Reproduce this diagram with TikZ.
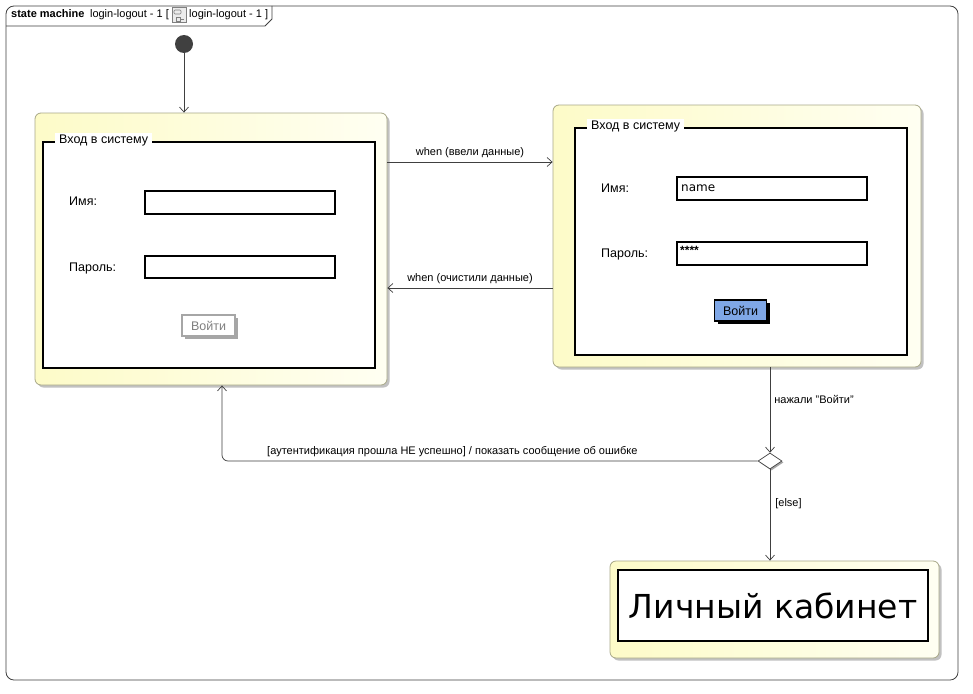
\documentclass[tikz,border=0pt]{standalone}
\usepackage{fontspec}
\setmainfont{Liberation Sans}
\newfontfamily\comicf{DejaVu Sans}
\usetikzlibrary{shapes.geometric,arrows.meta,shadows,calc}
\definecolor{ln}{HTML}{404040}
\definecolor{stborder}{HTML}{A8A888}
\definecolor{yelA}{HTML}{FDFBC8}
\definecolor{yelB}{HTML}{FFFFF2}
\definecolor{btnblue}{HTML}{7FA7E6}
\tikzset{
  tr/.style={draw=ln, line width=0.7pt, -{Straight Barb[length=5pt,width=9pt]}},
  trlabel/.style={font=\fontsize{11}{13}\selectfont, text=black, inner sep=1pt},
  state/.style={draw=stborder, line width=0.8pt, rounded corners=6pt, left color=yelA, right color=yelB,
     drop shadow={shadow xshift=2.5pt, shadow yshift=-2.5pt, fill=black!30, opacity=0.8}},
  panel/.style={draw=black, fill=white, line width=1.6pt, inner sep=0pt},
  field/.style={draw=black, fill=white, line width=1.5pt, inner sep=0pt, minimum width=190pt, minimum height=23pt},
  lbl/.style={font=\fontsize{12.5}{14}\selectfont, anchor=west, inner sep=0pt},
  ptitle/.style={font=\fontsize{12.5}{14}\selectfont, anchor=west, fill=white, inner xsep=4pt, inner ysep=1pt},
}
\begin{document}
\begin{tikzpicture}[x=1pt,y=-1pt]
\useasboundingbox (0,0) rectangle (973,693);
\fill[white] (0,0) rectangle (973,693);
% frame
\draw[ln, line width=0.8pt, rounded corners=8pt] (6,6) rectangle (958,680);
\draw[ln, line width=0.8pt] (6,26) -- (265,26) -- (272,19) -- (272,6);
\node[anchor=west, inner sep=0pt, font=\fontsize{11}{13}\selectfont] (h1) at (11,15) {\textbf{state machine}\enspace login-logout - 1 [};
\node[draw=gray, fill=gray!15, line width=0.5pt, minimum width=14pt, minimum height=15pt, inner sep=0pt] (icon) at (179,15) {};
\draw[gray, line width=0.6pt, rounded corners=1pt] ($(icon.center)+(-5,-5)$) rectangle ($(icon.center)+(2,-1)$);
\draw[gray, line width=0.6pt] ($(icon.center)+(-3,2)$) rectangle ($(icon.center)+(1,6)$) ($(icon.center)+(1,4)$) -- ($(icon.center)+(5,4)$);
\node[anchor=west, inner sep=0pt, font=\fontsize{11}{13}\selectfont] (h2) at (189,15) {login-logout - 1 ]};

% initial
\node[circle, fill=ln, minimum size=18pt, inner sep=0pt] (init) at (184,44) {};

% left state
\node[state, minimum width=352pt, minimum height=272pt] (left) at (211,249) {};
\node[panel, minimum width=332pt, minimum height=226pt] (lpanel) at (209,255) {};
\node[ptitle] (ltitle) at (55,140) {Вход в систему};
\node[lbl] (lname) at (69,201) {Имя:};
\node[lbl] (lpass) at (69,268) {Пароль:};
\node[field] (lf1) at (240,202.5) {};
\node[field, minimum height=22pt] (lf2) at (240,267) {};
\node[draw=gray!70, fill=white, line width=1.5pt, minimum width=53pt, minimum height=21pt, inner sep=0pt,
      text=gray, font=\fontsize{12.5}{14}\selectfont,
      drop shadow={shadow xshift=2.5pt, shadow yshift=-2.5pt, fill=gray!70, opacity=1}] (lbtn) at (208.5,325.5) {Войти};

% right state
\node[state, minimum width=368pt, minimum height=262pt] (right) at (737,236) {};
\node[panel, minimum width=332pt, minimum height=227pt] (rpanel) at (741,241.5) {};
\node[ptitle] (rtitle) at (587,126) {Вход в систему};
\node[lbl] (rname) at (601,188) {Имя:};
\node[lbl] (rpass) at (601,254) {Пароль:};
\node[field] (rf1) at (772,188.5) {};
\node[field] (rf2) at (772,253.5) {};
\node[anchor=west, inner sep=0pt, font=\comicf\fontsize{12}{14}\selectfont] (rf1t) at (681,188.5) {name};
\node[anchor=west, inner sep=0pt, font=\bfseries\fontsize{12}{14}\selectfont] (rf2t) at (680,250) {****};
\node[draw=black, fill=btnblue, line width=1.5pt, minimum width=52pt, minimum height=21pt, inner sep=0pt,
      font=\fontsize{12.5}{14}\selectfont,
      drop shadow={shadow xshift=3pt, shadow yshift=-3pt, fill=black, opacity=1}] (rbtn) at (740.5,310.5) {Войти};

% decision
\node[diamond, draw=ln, fill=white, line width=0.7pt, minimum width=24pt, minimum height=16pt, inner sep=0pt,
      drop shadow={shadow xshift=1.5pt, shadow yshift=-1.5pt, fill=black!35, opacity=1}] (dec) at (770,461) {};

% cabinet
\node[state, minimum width=329pt, minimum height=97pt] (cab) at (774.5,609.5) {};
\node[panel, line width=1.8pt, minimum width=310pt, minimum height=71pt, font=\comicf\fontsize{33}{40}\selectfont] (cabin) at (773,605.5) {Личный кабинет};

% transitions
\draw[tr] (init.south) -- (init.south |- left.north);
\draw[tr] (left.east |- 0,162) -- node[trlabel, above=3pt] {when (ввели данные)} (right.west |- 0,162);
\draw[tr] (right.west |- 0,288) -- node[trlabel, above=3pt] {when (очистили данные)} (left.east |- 0,288);
\draw[tr] (right.south -| dec) -- node[trlabel, anchor=west, pos=0.38, xshift=3pt] {нажали "Войти"} (dec.north);
\draw[tr, rounded corners=6pt] (dec.west) -- node[trlabel, above=3pt, pos=0.57] {[аутентификация прошла НЕ успешно] / показать сообщение об ошибке} (222,461) -- (222,0 |- left.south);
\draw[tr] (dec.south) -- node[trlabel, anchor=west, pos=0.38, xshift=4pt] {[else]} (dec.south |- cab.north);
\end{tikzpicture}
\end{document}
